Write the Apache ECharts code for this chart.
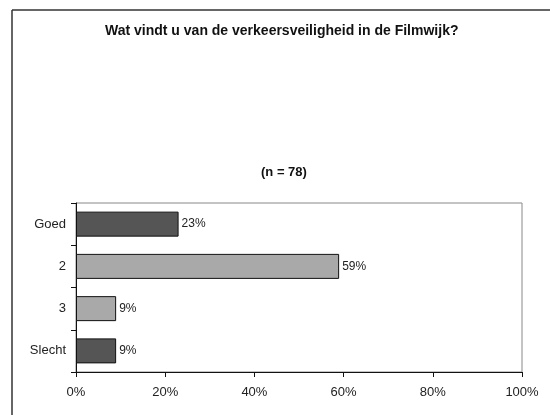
<!DOCTYPE html>
<html>
<head>
<meta charset="utf-8">
<script src="https://cdn.jsdelivr.net/npm/echarts@6/dist/echarts.min.js"></script>
<style>
html,body{margin:0;padding:0;background:#fff;}
#c{width:550px;height:415px;}
</style>
</head>
<body>
<div id="c"></div>
<script>
const categories = ['Goed', '2', '3', 'Slecht'];
const values = [23, 59, 9, 9];
const barColors = ['#555555', '#a9a9a9', '#a9a9a9', '#555555'];
const xTicks = [0, 20, 40, 60, 80, 100];
const titleText = 'Wat vindt u van de verkeersveiligheid in de Filmwijk?';
const subtitleText = '(n = 78)';

const chart = echarts.init(document.getElementById('c'));
chart.setOption({
  backgroundColor: '#ffffff',
  animation: false,
  title: [
    { text: titleText, left: 100, top: 19,
      textStyle: { fontFamily: 'Liberation Sans', fontSize: 14, fontWeight: 'bold', color: '#111' } },
    { text: subtitleText, left: 256, top: 161,
      textStyle: { fontFamily: 'Liberation Sans', fontSize: 13, fontWeight: 'bold', color: '#111' } }
  ],
  graphic: [
    { type: 'line', shape: { x1: 12, y1: 10, x2: 550, y2: 10 }, style: { stroke: '#333', lineWidth: 1.5 } },
    { type: 'line', shape: { x1: 12, y1: 10, x2: 12, y2: 415 }, style: { stroke: '#333', lineWidth: 1.5 } }
  ],
  grid: { left: 76, right: 28, top: 203, bottom: 43, show: true, borderColor: '#888', borderWidth: 1, backgroundColor: 'transparent' },
  xAxis: {
    type: 'value', min: xTicks[0], max: xTicks[xTicks.length - 1], interval: 20,
    axisLine: { show: true, lineStyle: { color: '#111', width: 1 } },
    axisTick: { show: true, length: 5, lineStyle: { color: '#111' } },
    splitLine: { show: false },
    axisLabel: { formatter: '{value}%', margin: 14, fontFamily: 'Liberation Sans', fontSize: 13, color: '#222' }
  },
  yAxis: {
    type: 'category', data: categories, inverse: true,
    axisLine: { show: true, lineStyle: { color: '#111', width: 1 } },
    axisTick: { show: true, length: 5, lineStyle: { color: '#111' } },
    axisLabel: { margin: 10, fontFamily: 'Liberation Sans', fontSize: 13, color: '#222' }
  },
  series: [{
    type: 'bar',
    barWidth: 25,
    data: values.map((v, i) => ({ value: v, itemStyle: { color: barColors[i] } })),
    itemStyle: { borderColor: '#111', borderWidth: 1 },
    label: { show: true, position: 'right', distance: 3, formatter: '{c}%', fontFamily: 'Liberation Sans', fontSize: 12, color: '#222' }
  }]
});
</script>
</body>
</html>
